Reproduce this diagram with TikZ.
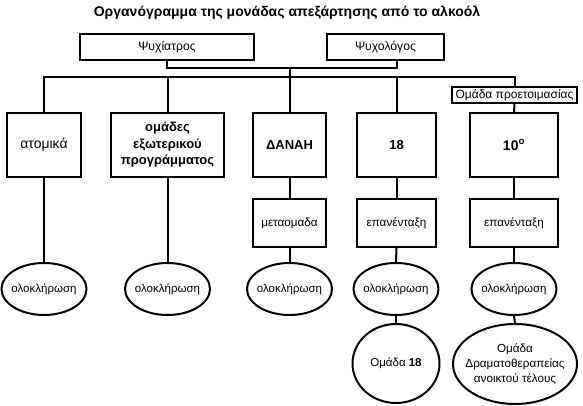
\documentclass[tikz,border=0pt]{standalone}
\usepackage{fontspec}
\setmainfont{Liberation Sans}
\usetikzlibrary{shapes.geometric}
\begin{document}
\begin{tikzpicture}[x=1pt,y=-1pt, line width=2pt,
  box/.style={draw, line width=2pt, inner sep=0pt, align=center, font=\fontsize{11.7}{14}\selectfont},
  bigbox/.style={box, minimum height=64pt, font=\fontsize{13}{16.5}\selectfont\bfseries},
  midbox/.style={box, minimum height=48pt},
  oval/.style={draw, ellipse, line width=2pt, inner xsep=-8pt, inner ysep=0pt, align=center, minimum width=85pt, minimum height=52pt, font=\fontsize{11.5}{14}\selectfont}
]
\useasboundingbox (0,0) rectangle (583,406);
\fill[white] (0,0) rectangle (583,406);

\node[font=\fontsize{14}{16}\selectfont\bfseries] (title) at (287,13) {Οργανόγραμμα της μονάδας απεξάρτησης από το αλκοόλ};

\node[box, minimum width=174pt, minimum height=26pt, font=\fontsize{12.2}{14}\selectfont] (psy) at (167,47) {Ψυχίατρος};
\node[box, minimum width=117pt, minimum height=26pt, font=\fontsize{12.2}{14}\selectfont] (psl) at (385.5,47) {Ψυχολόγος};

\node[bigbox, minimum width=74pt, font=\fontsize{14}{16}\selectfont] (atom) at (44,145) {ατομικά};
\node[bigbox, minimum width=113pt] (omad) at (167.5,145) {ομάδες\\εξωτερικού\\προγράμματος};
\node[bigbox, minimum width=73pt] (dan) at (289.5,145) {ΔΑΝΑΗ};
\node[bigbox, minimum width=79pt] (g18) at (396.5,145) {18};
\node[bigbox, minimum width=88pt, font=\fontsize{14}{16}\selectfont\bfseries] (g10) at (514,145) {10\textsuperscript{o}};

\node[box, minimum width=125pt, minimum height=16pt, font=\fontsize{12}{14}\selectfont] (prep) at (514.5,95) {Ομάδα προετοιμασίας};

\node[midbox, minimum width=73pt] (meta) at (289.5,223) {μεταομαδα};
\node[midbox, minimum width=79pt] (ep18) at (396.5,223) {επανένταξη};
\node[midbox, minimum width=88pt] (ep10) at (514,223) {επανένταξη};

\node[oval] (o1) at (44,289) {ολοκλήρωση};
\node[oval] (o2) at (167.5,289) {ολοκλήρωση};
\node[oval] (o3) at (289.5,289) {ολοκλήρωση};
\node[oval] (o4) at (396,289) {ολοκλήρωση};
\node[oval] (o5) at (514,289) {ολοκλήρωση};

\node[oval, minimum width=87pt, minimum height=79pt] (om18) at (396,363.5) {Ομάδα \textbf{18}};
\node[oval, minimum width=124pt, minimum height=80pt, font=\fontsize{11.7}{15}\selectfont] (drama) at (515,364) {Ομάδα\\Δραματοθεραπείας\\ανοικτού τέλους};

\coordinate (join) at (289.5,68);
\coordinate (bus) at (0,77);

\draw (psy.south) |- (join) -| (psl.south -| g18.north);
\draw (join) -- (dan.north);
\draw (atom.north) -- (atom.north |- bus) -- (prep.north |- bus) -- (prep.north);
\draw (omad.north) -- (omad.north |- bus);
\draw (g18.north) -- (g18.north |- bus);
\draw (prep.south) -- (g10.north);

\draw (atom.south) -- (o1.north);
\draw (omad.south) -- (o2.north);
\draw (dan.south) -- (meta.north);
\draw (meta.south) -- (o3.north);
\draw (g18.south) -- (ep18.north);
\draw (ep18.south) -- (o4.north);
\draw (g10.south) -- (ep10.north);
\draw (ep10.south) -- (o5.north);
\draw (o4.south) -- (om18.north);
\draw (o5.south) -- (drama.north);
\end{tikzpicture}
\end{document}
